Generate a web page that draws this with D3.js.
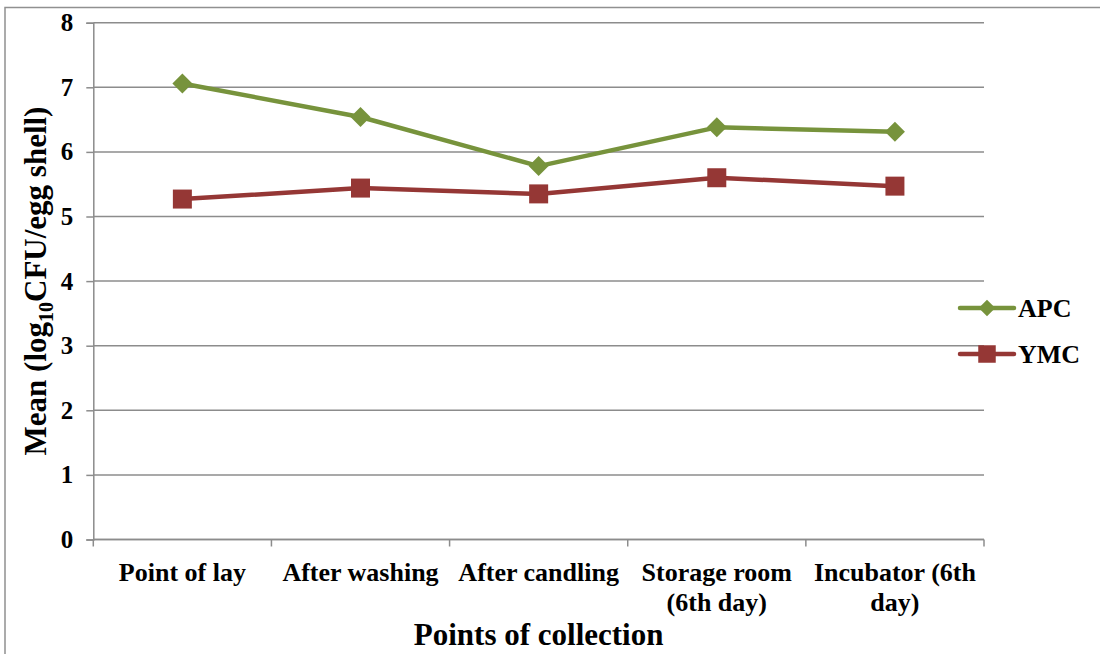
<!DOCTYPE html>
<html>
<head>
<meta charset="utf-8">
<script src="https://cdn.jsdelivr.net/npm/d3@7"></script>
<style>
  html, body { margin: 0; padding: 0; background: #fff; }
  svg { display: block; font-family: "Liberation Serif", "Times New Roman", serif; font-weight: bold; }
</style>
</head>
<body>
<svg id="chart" width="1100" height="654"></svg>
<script>
// Points of collection along the egg handling chain
const categories = ["Point of lay", "After washing", "After candling", "Storage room (6th day)", "Incubator (6th day)"];
// Mean counts, log10 CFU per egg shell
const apcValues = [7.06, 6.54, 5.78, 6.38, 6.31];
const ymcValues = [5.27, 5.44, 5.35, 5.60, 5.47];
const yTicks = [0, 1, 2, 3, 4, 5, 6, 7, 8];

const series = [
  { name: "APC", values: apcValues, color: "#77933C", diamond: true },
  { name: "YMC", values: ymcValues, color: "#953735", diamond: false }
];

const svg = d3.select("#chart");
const plot = { left: 93.3, right: 984, top: 22.7, bottom: 539.5 };
const gridColor = "#8c8c8c";
const serif = "'Liberation Serif', 'Times New Roman', serif";

// Chart area frame
svg.append("rect")
  .attr("x", 5).attr("y", 7.5)
  .attr("width", 1200).attr("height", 800)
  .attr("fill", "none").attr("stroke", "#909090").attr("stroke-width", 1.5);

const x = d3.scaleBand().domain(categories).range([plot.left, plot.right]);
const y = d3.scaleLinear().domain([0, 8]).range([plot.bottom, plot.top]);

// Horizontal gridlines
svg.append("g")
  .selectAll("line")
  .data(yTicks)
  .join("line")
  .attr("x1", plot.left).attr("x2", plot.right)
  .attr("y1", d => y(d)).attr("y2", d => y(d))
  .attr("stroke", gridColor).attr("stroke-width", 1.5);

// Y axis
const yAxis = svg.append("g")
  .attr("transform", `translate(${plot.left},0)`)
  .call(d3.axisLeft(y).tickValues(yTicks).tickFormat(d3.format("d")).tickSize(7).tickPadding(13));
yAxis.attr("font-family", null).attr("font-size", null);
yAxis.select(".domain").attr("stroke", gridColor).attr("stroke-width", 1.5);
yAxis.selectAll(".tick line").attr("stroke", gridColor).attr("stroke-width", 1.5);
yAxis.selectAll(".tick text")
  .attr("fill", "#000")
  .style("font-family", serif)
  .style("font-weight", "bold")
  .style("font-size", "25px");

// X axis: ticks at category boundaries
const xAxisG = svg.append("g");
xAxisG.append("line")
  .attr("x1", plot.left).attr("x2", plot.right)
  .attr("y1", plot.bottom).attr("y2", plot.bottom)
  .attr("stroke", gridColor).attr("stroke-width", 1.5);
const boundaries = categories.map(c => x(c)).concat([x(categories[categories.length - 1]) + x.bandwidth()]);
xAxisG.selectAll("line.tick")
  .data(boundaries)
  .join("line")
  .attr("class", "tick")
  .attr("x1", d => d).attr("x2", d => d)
  .attr("y1", plot.bottom).attr("y2", plot.bottom + 7)
  .attr("stroke", gridColor).attr("stroke-width", 1.5);

// Category labels, wrapped to the band width
const labels = xAxisG.selectAll("text.cat")
  .data(categories)
  .join("text")
  .attr("class", "cat")
  .attr("x", d => x(d) + x.bandwidth() / 2)
  .attr("y", 581)
  .attr("text-anchor", "middle")
  .attr("font-size", 26)
  .attr("fill", "#000");

labels.each(function(d) {
  const t = d3.select(this);
  const words = d.split(" ");
  const maxW = x.bandwidth();
  const lines = [];
  let current = [];
  const probe = t.append("tspan");
  words.forEach(w => {
    probe.text(current.concat([w]).join(" "));
    if (probe.node().getComputedTextLength() > maxW && current.length) {
      lines.push(current.join(" "));
      current = [w];
    } else {
      current.push(w);
    }
  });
  lines.push(current.join(" "));
  probe.remove();
  lines.forEach((ln, i) => {
    t.append("tspan")
      .attr("x", x(d) + x.bandwidth() / 2)
      .attr("dy", i === 0 ? 0 : 29.7)
      .text(ln);
  });
});

// Series lines
const line = d3.line()
  .x((d, i) => x(categories[i]) + x.bandwidth() / 2)
  .y(d => y(d));

series.forEach(s => {
  svg.append("path")
    .datum(s.values)
    .attr("d", line)
    .attr("fill", "none")
    .attr("stroke", s.color)
    .attr("stroke-width", 4.5)
    .attr("stroke-linejoin", "round")
    .attr("stroke-linecap", "round");
});

// Markers: diamonds are squares turned 45 degrees
series.forEach(s => {
  const size = s.diamond ? 20 * 20 / 2 : 19 * 19;
  svg.append("g")
    .selectAll("path")
    .data(s.values)
    .join("path")
    .attr("transform", (d, i) => `translate(${x(categories[i]) + x.bandwidth() / 2},${y(d)})` + (s.diamond ? " rotate(45)" : ""))
    .attr("d", d3.symbol().type(d3.symbolSquare).size(size))
    .attr("fill", s.color);
});

// Legend
const legend = svg.append("g");
const legendRows = [
  { s: series[0], y: 308 },
  { s: series[1], y: 354 }
];
legendRows.forEach(r => {
  legend.append("line")
    .attr("x1", 960).attr("x2", 1014)
    .attr("y1", r.y).attr("y2", r.y)
    .attr("stroke", r.s.color).attr("stroke-width", 4.5)
    .attr("stroke-linecap", "round");
  legend.append("path")
    .attr("transform", `translate(987,${r.y})` + (r.s.diamond ? " rotate(45)" : ""))
    .attr("d", d3.symbol().type(d3.symbolSquare).size(r.s.diamond ? 16.5 * 16.5 / 2 : 17.5 * 17.5))
    .attr("fill", r.s.color);
  legend.append("text")
    .attr("x", 1018).attr("y", r.y + 9)
    .attr("font-size", 26)
    .attr("fill", "#000")
    .text(r.s.name);
});

// Axis titles
svg.append("text")
  .attr("x", (plot.left + plot.right) / 2)
  .attr("y", 645)
  .attr("text-anchor", "middle")
  .attr("font-size", 31)
  .attr("fill", "#000")
  .text("Points of collection");

const yTitle = svg.append("text")
  .attr("transform", "translate(46,281) rotate(-90)")
  .attr("text-anchor", "middle")
  .attr("font-size", 31)
  .attr("fill", "#000");
yTitle.append("tspan").text("Mean (log");
yTitle.append("tspan").attr("font-size", 20).attr("dy", 7).text("10");
yTitle.append("tspan").attr("dy", -7).text("CFU/egg shell)");
</script>
</body>
</html>
